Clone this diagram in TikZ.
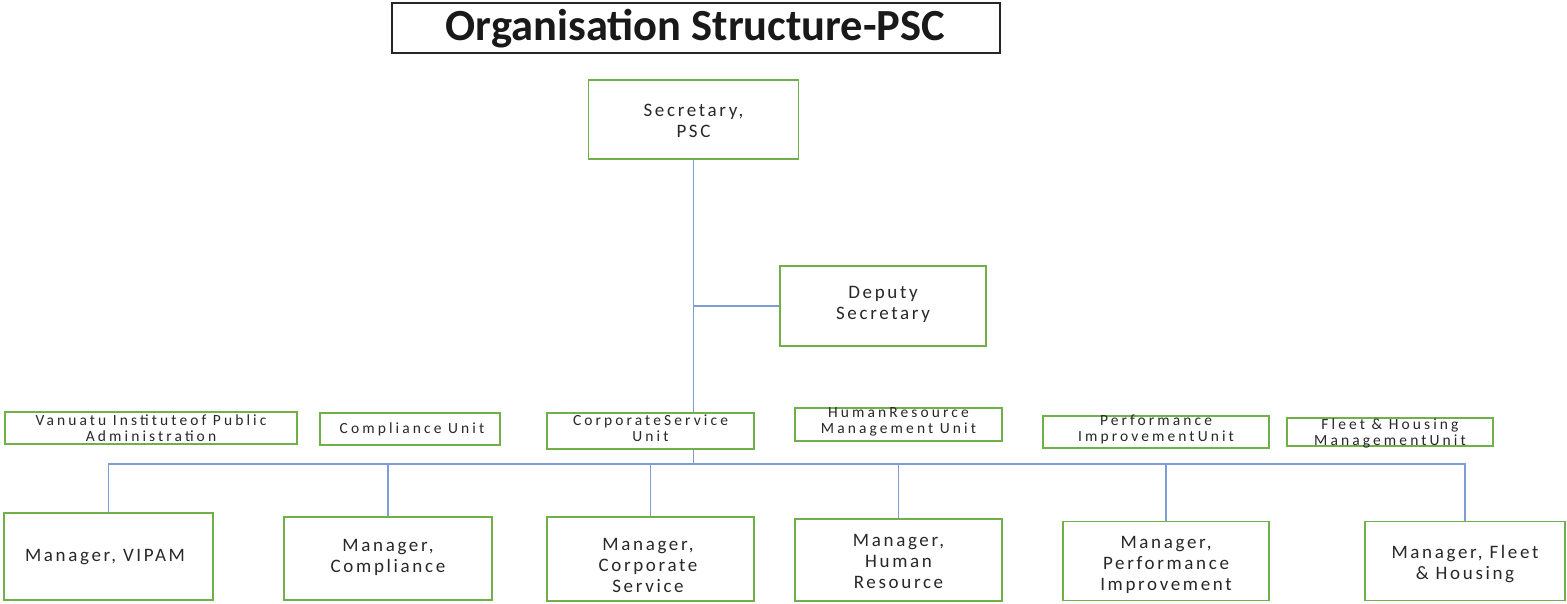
\documentclass[tikz,border=0pt]{standalone}
\usepackage{fontspec}
\setmainfont{Carlito}
\newfontfamily\spacedfont[LetterSpace=14]{Carlito}
\newfontfamily\unitfont[LetterSpace=20]{Carlito}
\definecolor{boxgreen}{RGB}{112,176,72}
\definecolor{linkblue}{RGB}{126,156,214}
\definecolor{inkgray}{RGB}{40,40,40}
\begin{document}
\begin{tikzpicture}[x=1pt,y=-1pt,
  gbox/.style={draw=boxgreen, line width=1.8pt, fill=white, inner sep=0pt},
  sz/.style 2 args={minimum width=#1pt, minimum height=#2pt},
  link/.style={draw=linkblue, line width=1.3pt},
  bigtxt/.style={text=inkgray, align=center, inner sep=0pt,
    font=\fontsize{19}{21}\spacedfont},
  smalltxt/.style={text=inkgray, align=center, inner sep=0pt,
    font=\fontsize{15.5}{16}\unitfont},
  titlebox/.style={draw=black!85, line width=2.2pt, fill=white, inner sep=0pt}]
\useasboundingbox (0,0) rectangle (1567,603);

% title
\node[titlebox, sz={608}{50}] (title) at (696,28) {};
\node[font=\fontsize{44.5}{48}\selectfont\bfseries, text=black!90, inner sep=0pt] (titletxt) at (695.5,29) {Organisation Structure-PSC};

% junction point of the tree
\coordinate (bus) at (693.5,464);

% boxes are placed first so that the connectors can refer to them
\node[gbox, sz={210}{79}] (sec) at (693.5,119.5) {};
\node[gbox, sz={206}{80}] (dep) at (883,306) {};

\node[gbox, sz={209}{87}] (m1) at (108.5,556.5) {};
\node[gbox, sz={208}{83}] (m2) at (388,558.5) {};
\node[gbox, sz={207}{84}] (m3) at (650.5,559) {};
\node[gbox, sz={207}{82}] (m4) at (898.5,560) {};
\node[gbox, sz={206}{79}] (m5) at (1166,561) {};
\node[gbox, sz={200}{79}] (m6) at (1465,561) {};

% connectors
\draw[link] (sec.south) -- (bus);
\draw[link] (sec.south |- dep.west) -- (dep.west);
\draw[link] (m1.north) |- (bus) -| (m6.north);
\foreach \m in {m2,m3,m4,m5}
  \draw[link] (\m.north) -- (\m.north |- bus);

% unit boxes (drawn over the trunk line)
\node[gbox, sz={292}{32}] (u1) at (151,428) {};
\node[gbox, sz={180}{32}] (u2) at (410,429) {};
\node[gbox, sz={207}{36}] (u3) at (650.5,431) {};
\node[gbox, sz={207}{33}] (u4) at (898.5,424.5) {};
\node[gbox, sz={226}{32}] (u5) at (1156,432) {};
\node[gbox, sz={206}{28}] (u6) at (1390,432) {};

% labels
\node[bigtxt] (sect) at (693.5,121) {Secretary,\\PSC};
\node[bigtxt] (dept) at (883,304.5) {Deputy\\Secretary};

\node[smalltxt] (u1t) at (151,428) {Vanuatu Instituteof Public\\Administration};
\node[smalltxt] (u2t) at (412,429) {Compliance Unit};
\node[smalltxt] (u3t) at (650.5,428) {CorporateService\\Unit};
\node[smalltxt] (u4t) at (898.5,421.5) {HumanResource\\Management Unit};
\node[smalltxt] (u5t) at (1156,429) {Performance\\ImprovementUnit};
\node[smalltxt] (u6t) at (1390,433) {Fleet \& Housing\\ManagementUnit};

\node[bigtxt] (m1t) at (105,557) {Manager, VIPAM};
\node[bigtxt] (m2t) at (388,557.5) {Manager,\\Compliance};
\node[bigtxt] (m3t) at (648,565.5) {Manager,\\Corporate\\Service};
\node[bigtxt] (m4t) at (898.5,561.5) {Manager,\\Human\\Resource};
\node[bigtxt] (m5t) at (1166,565) {Manager,\\Performance\\Improvement};
\node[bigtxt] (m6t) at (1465,564) {Manager, Fleet\\\& Housing};
\end{tikzpicture}
\end{document}
